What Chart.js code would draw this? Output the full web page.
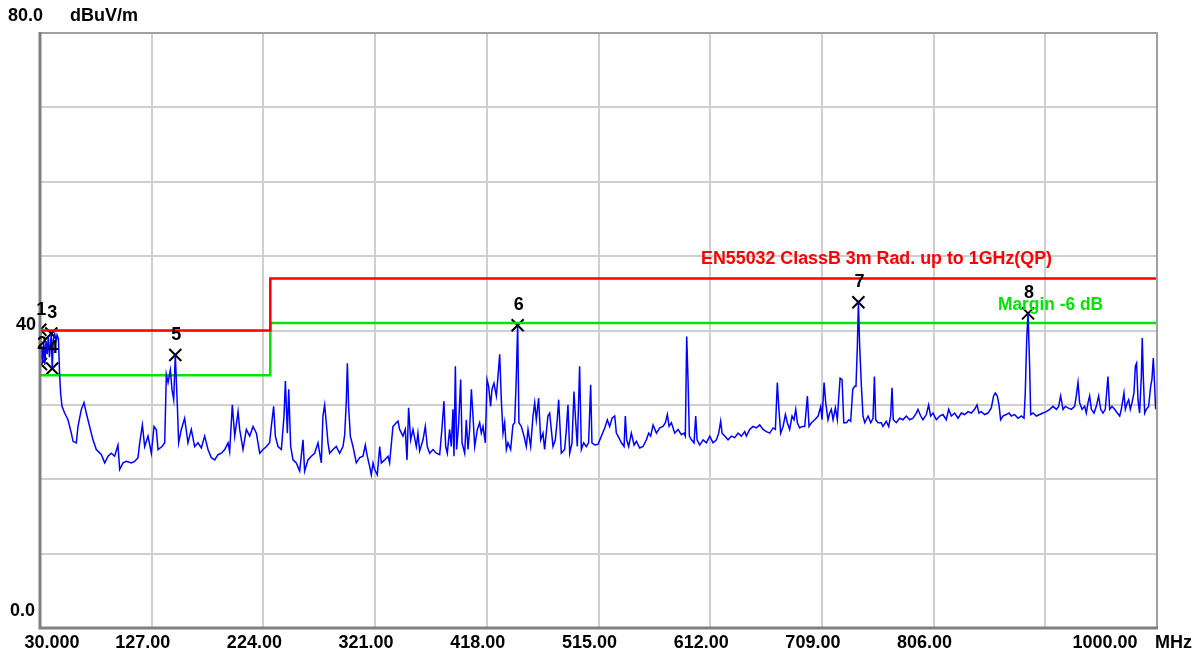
<!DOCTYPE html>
<html>
<head>
<meta charset="utf-8">
<script src="https://cdn.jsdelivr.net/npm/chart.js@4.4.1/dist/chart.umd.min.js"></script>
<style>
  html, body { margin: 0; padding: 0; background: #fff; }
  #wrap { width: 1200px; height: 655px; }
</style>
</head>
<body>
<div id="wrap"><canvas id="emc" width="1200" height="655"></canvas></div>
<script>
// measured trace, [MHz, dBuV/m]
var trace = [
	[30.0, 39.5], [30.3, 40.1], [30.8, 35.5], [31.6, 37.9], [32.4, 35.9], [33.3, 38.3], [34.2, 35.4],
	[35.2, 38.6], [36.2, 36.8], [37.2, 39.2], [38.2, 36.4], [39.8, 39.6], [40.6, 34.9], [41.6, 38.8],
	[42.8, 39.5], [43.8, 38.6], [44.8, 39.4], [46.0, 38.9], [47.0, 34.2],
	[47.9, 31.6], [49.1, 29.8], [51.4, 28.9], [54.3, 28.0], [57.2, 26.2], [58.7, 25.1], [61.5, 24.9],
	[63.0, 27.1], [65.9, 29.4], [68.2, 30.3], [70.2, 28.9], [73.1, 27.1], [76.0, 25.3], [78.9, 24.0],
	[83.3, 23.3], [86.2, 22.2], [89.1, 23.1], [91.9, 23.5], [94.8, 23.1], [97.7, 24.6], [99.2, 21.3],
	[102.1, 22.2], [105.0, 22.4], [109.3, 22.2], [112.2, 22.4], [115.1, 22.9], [116.6, 24.9], [118.9, 27.3],
	[120.9, 24.4], [123.8, 25.8], [126.7, 23.5], [129.0, 27.1], [131.0, 26.7], [132.5, 24.0], [136.0, 24.4],
	[138.3, 24.9], [139.7, 34.1], [141.2, 33.0], [143.2, 34.7], [144.6, 32.1], [146.1, 30.7], [147.5, 36.7],
	[149.3, 29.8], [150.4, 24.9], [152.7, 26.7], [155.6, 28.2], [158.5, 24.9], [161.4, 26.7], [164.3, 24.4],
	[167.2, 24.9], [170.1, 24.2], [173.0, 25.8], [175.9, 24.0], [178.8, 22.9], [181.7, 22.6], [184.6, 23.3],
	[187.5, 23.5], [190.4, 24.0], [193.3, 24.9], [194.7, 23.7], [197.0, 30.0], [199.1, 25.8], [202.0, 29.1],
	[203.4, 26.7], [206.3, 24.0], [209.2, 26.7], [212.1, 25.8], [215.0, 27.1], [217.9, 26.2], [220.8, 23.5],
	[223.7, 24.0], [226.6, 24.4], [229.4, 24.9], [230.9, 27.1], [232.9, 29.8], [234.4, 25.8], [236.7, 24.4],
	[239.6, 24.0], [241.9, 28.5], [243.1, 33.2], [244.8, 26.2], [246.0, 32.1], [247.7, 24.4], [249.7, 22.6],
	[252.6, 22.2], [255.5, 21.1], [258.4, 25.3], [259.8, 21.1], [262.7, 22.6], [265.6, 23.1], [268.5, 23.5],
	[271.4, 24.9], [274.3, 22.2], [275.7, 28.5], [277.2, 30.0], [278.6, 27.6], [280.1, 24.9], [281.5, 23.5],
	[284.4, 24.0], [287.3, 24.4], [290.2, 23.5], [293.1, 24.4], [294.6, 26.0], [296.0, 30.5], [296.9, 35.6],
	[298.0, 29.8], [299.5, 25.8], [301.8, 24.4], [304.7, 22.2], [307.6, 22.9], [310.5, 23.1], [312.5, 24.6],
	[314.2, 23.1], [316.3, 21.7], [317.7, 20.6], [319.2, 22.2], [320.6, 21.3], [322.9, 20.6], [325.0, 24.4],
	[326.4, 22.2], [329.3, 22.6], [332.2, 23.1], [333.6, 22.2], [336.5, 27.1], [339.4, 27.6], [340.9, 27.8],
	[342.3, 26.7], [345.2, 25.8], [347.2, 26.7], [348.7, 22.6], [350.1, 29.6], [351.9, 25.3], [353.9, 26.7],
	[356.8, 24.4], [358.2, 26.2], [359.7, 23.8], [362.6, 25.3], [364.6, 27.1], [366.3, 24.4], [368.4, 23.5],
	[371.3, 24.0], [374.2, 23.5], [377.1, 23.3], [379.1, 26.9], [380.8, 30.5], [382.3, 24.4], [383.7, 23.5],
	[385.7, 26.7], [387.2, 24.4], [388.6, 29.4], [389.5, 23.1], [390.7, 35.2], [391.8, 24.0], [393.6, 27.6],
	[395.3, 33.4], [396.5, 24.9], [398.8, 23.5], [400.2, 28.0], [401.7, 24.0], [403.1, 26.7], [404.6, 32.1],
	[406.0, 28.5], [407.5, 24.4], [409.8, 26.7], [411.8, 27.6], [413.2, 26.2], [414.7, 27.1], [416.7, 24.9],
	[418.2, 33.4], [419.6, 32.5], [421.3, 29.8], [422.5, 32.1], [424.2, 32.9], [426.3, 31.2], [427.7, 33.8],
	[429.2, 36.8], [430.6, 30.7], [432.1, 26.2], [433.5, 27.6], [435.0, 24.0], [436.4, 24.9], [438.7, 24.0],
	[440.7, 27.3], [442.2, 27.6], [443.6, 33.6], [444.8, 40.7], [445.9, 27.6], [448.0, 27.1], [450.3, 25.8],
	[452.3, 24.4], [453.8, 26.7], [456.1, 24.4], [458.1, 28.5], [459.6, 30.3], [461.0, 28.0], [463.0, 30.9],
	[464.8, 25.3], [466.8, 26.2], [468.2, 24.0], [471.1, 28.5], [472.6, 28.9], [474.0, 26.7], [475.5, 24.4],
	[477.5, 25.3], [479.2, 28.0], [480.4, 30.7], [482.7, 23.5], [485.6, 24.0], [487.1, 26.7], [488.5, 30.0],
	[490.0, 23.5], [492.0, 24.9], [493.7, 31.8], [494.9, 28.5], [496.6, 24.4], [498.6, 35.2], [500.1, 24.0],
	[502.1, 24.9], [504.4, 24.4], [506.4, 24.9], [508.2, 32.7], [509.3, 24.9], [511.7, 24.6], [514.6, 24.7],
	[517.5, 25.8], [520.4, 26.9], [522.7, 28.0], [524.7, 27.1], [526.8, 28.2], [529.1, 28.5], [530.5, 26.2],
	[532.0, 25.8], [534.9, 24.9], [537.2, 24.4], [538.3, 28.5], [539.5, 25.3], [541.2, 24.4], [543.5, 26.2],
	[545.9, 24.6], [547.9, 25.1], [550.8, 24.2], [553.7, 24.4], [556.6, 25.3], [558.6, 26.2], [560.3, 25.8],
	[562.4, 27.3], [565.3, 26.2], [568.2, 26.9], [571.0, 27.1], [573.1, 27.6], [574.8, 28.7], [576.3, 27.1],
	[578.3, 27.6], [581.2, 26.2], [584.1, 26.7], [587.0, 26.0], [589.3, 26.2], [590.4, 25.8], [591.6, 39.2],
	[592.8, 33.0], [593.9, 25.8], [595.7, 25.3], [598.0, 24.9], [599.4, 28.5], [600.6, 25.3], [602.9, 24.6],
	[605.8, 25.3], [608.7, 24.9], [611.6, 25.8], [614.5, 24.9], [617.4, 25.3], [619.4, 26.2], [621.1, 27.8],
	[622.3, 26.2], [624.6, 25.8], [627.5, 25.3], [630.4, 25.8], [633.3, 25.6], [636.2, 26.2], [639.1, 25.8],
	[642.0, 26.4], [643.4, 25.8], [646.3, 26.7], [649.2, 27.1], [652.1, 26.9], [655.0, 27.3], [657.9, 26.7],
	[660.8, 26.4], [663.7, 26.2], [666.6, 26.9], [668.6, 26.7], [670.3, 33.0], [671.5, 29.8], [673.2, 26.2],
	[675.3, 27.1], [677.3, 28.7], [679.0, 27.6], [681.0, 26.7], [683.1, 28.5], [684.8, 28.0], [686.3, 29.4],
	[687.7, 27.6], [689.7, 26.9], [691.8, 27.1], [694.1, 27.1], [696.4, 31.2], [697.8, 27.1], [699.9, 27.6],
	[702.8, 28.0], [705.7, 28.5], [708.0, 29.8], [709.1, 28.0], [710.9, 33.0], [712.3, 30.3], [714.3, 28.0],
	[715.8, 28.9], [717.2, 29.4], [718.7, 28.0], [720.7, 29.6], [722.4, 28.0], [723.6, 30.9], [724.8, 33.6],
	[726.5, 33.4], [728.0, 27.6], [730.3, 27.6], [732.3, 28.0], [734.0, 27.8], [735.8, 32.1], [737.5, 32.5],
	[738.6, 32.5], [739.8, 37.9], [740.7, 43.8], [741.8, 37.9], [743.3, 32.5], [744.7, 28.5], [746.2, 27.6],
	[749.1, 28.5], [751.4, 27.6], [753.4, 28.2], [754.6, 33.8], [755.7, 28.0], [757.7, 27.6], [760.6, 27.6],
	[762.0, 27.1], [764.9, 27.8], [767.0, 27.1], [768.7, 28.5], [769.9, 32.3], [771.0, 28.0], [773.6, 27.6],
	[776.5, 28.2], [779.4, 28.0], [782.3, 28.5], [785.2, 28.0], [788.1, 28.2], [791.0, 28.9], [792.4, 29.4],
	[794.8, 28.5], [796.8, 28.0], [799.7, 28.7], [801.7, 30.0], [803.4, 28.5], [805.5, 28.9], [808.4, 28.0],
	[811.3, 28.5], [814.1, 28.7], [817.0, 28.0], [819.1, 29.4], [821.4, 28.5], [824.3, 28.9], [827.2, 28.2],
	[830.1, 28.9], [833.0, 28.7], [835.9, 29.1], [838.8, 28.9], [841.6, 29.4], [843.7, 30.0], [845.4, 28.9],
	[847.4, 29.1], [850.3, 28.7], [853.2, 28.9], [856.1, 29.6], [858.1, 31.2], [859.6, 31.6], [861.3, 31.2],
	[862.8, 30.0], [864.2, 28.0], [866.2, 28.5], [869.1, 28.7], [871.5, 28.9], [873.5, 28.5], [876.4, 28.7],
	[879.3, 28.2], [882.2, 28.5], [884.5, 28.2], [885.6, 31.6], [886.8, 38.6], [888.0, 42.3], [889.4, 35.2],
	[890.3, 28.7], [892.3, 28.9], [895.2, 28.5], [898.1, 28.7], [901.0, 28.9], [903.9, 29.1], [906.8, 29.4],
	[909.7, 29.8], [912.6, 29.4], [914.6, 29.8], [916.3, 31.2], [918.4, 29.4], [920.4, 29.8], [922.7, 29.6],
	[925.6, 29.4], [928.5, 29.8], [929.9, 31.2], [931.4, 33.0], [932.8, 30.3], [934.9, 29.4], [937.2, 29.8],
	[938.6, 28.9], [940.1, 30.3], [941.5, 31.2], [943.0, 29.4], [945.3, 28.9], [947.3, 29.8], [949.3, 31.2],
	[951.1, 29.4], [953.1, 28.9], [955.1, 29.4], [957.4, 33.8], [958.9, 29.4], [960.9, 29.8], [963.2, 29.4],
	[965.5, 28.9], [967.6, 28.5], [969.0, 29.4], [971.3, 31.6], [972.5, 29.4], [974.2, 30.3], [975.4, 30.7],
	[976.8, 29.4], [978.3, 30.3], [980.0, 31.6], [981.2, 35.2], [982.3, 35.6], [983.5, 30.7], [984.9, 28.9],
	[986.4, 33.8], [987.2, 39.0], [988.1, 33.8], [989.3, 28.9], [990.7, 29.4], [992.7, 29.8], [994.5, 32.5],
	[995.6, 33.4], [996.8, 36.3], [997.9, 32.7], [998.8, 29.4], [1000.0, 30.6]
];

// EN55032 class B 3m QP limit and the -6 dB margin
var limitMHz = [30, 230, 230, 1000];
var limitDb = [40, 40, 47, 47];
var marginDb = [34, 34, 41, 41];

// marker table
var markerNo = ['1', '2', '3', '4', '5', '6', '7', '8'];
var markerMHz = [30.3, 30.8, 39.8, 40.6, 147.5, 444.8, 740.7, 888.0];
var markerDb = [40.1, 35.5, 39.6, 34.9, 36.7, 40.7, 43.8, 42.3];

// axis text
var xTickMHz = [30, 127, 224, 321, 418, 515, 612, 709, 806, 1000];
var xTickText = ['30.000', '127.00', '224.00', '321.00', '418.00', '515.00', '612.00', '709.00', '806.00', '1000.00'];

var FONT = 'bold 18px "Liberation Sans", Arial, sans-serif';

function pairs(xs, ys){
	var out = [];
	for(var i = 0; i < xs.length; i++){
		out.push({x: xs[i], y: ys[i]});
	}
	return out;
}

var frameAndText = {
	id: 'frameAndText',
	afterDraw: function(chart){
		var c = chart.ctx;
		var a = chart.chartArea;
		var xs = chart.scales.x, ys = chart.scales.y;
		c.save();

		// frame: light top/right, darker left/bottom
		c.lineWidth = 2;
		c.strokeStyle = '#a0a0a0';
		c.beginPath();
		c.moveTo(a.left, a.top); c.lineTo(a.right, a.top); c.lineTo(a.right, a.bottom);
		c.stroke();
		c.lineWidth = 3;
		c.strokeStyle = '#808080';
		c.beginPath();
		c.moveTo(a.left, a.top - 1); c.lineTo(a.left, a.bottom); c.lineTo(a.right + 1, a.bottom);
		c.stroke();

		c.font = FONT;
		c.fillStyle = '#000';
		c.textBaseline = 'middle';

		// y labels
		c.textAlign = 'left';
		c.fillText('80.0', 8, ys.getPixelForValue(80) - 17);
		c.fillText('dBuV/m', 70, ys.getPixelForValue(80) - 17);
		c.textAlign = 'right';
		c.fillText('40', a.left - 4, ys.getPixelForValue(40) - 5);
		c.fillText('0.0', a.left - 5, ys.getPixelForValue(0) - 17);

		// x labels
		c.textAlign = 'center';
		var ly = a.bottom + 15;
		for(var i = 0; i < xTickMHz.length; i++){
			var px = xs.getPixelForValue(xTickMHz[i]);
			if(i == 0) px += 12;
			else if(i == xTickMHz.length - 1) px -= 52;
			else px -= 9;
			c.fillText(xTickText[i], px, ly);
		}
		c.textAlign = 'left';
		c.fillText('MHz', a.right - 2, ly);

		// limit captions
		c.fillStyle = '#ff0000';
		c.fillText('EN55032 ClassB 3m Rad. up to 1GHz(QP)', 701, ys.getPixelForValue(47) - 19, 351);
		c.fillStyle = '#00e600';
		c.fillText('Margin -6 dB', 998, ys.getPixelForValue(41) - 18, 105);

		// marker numbers
		c.fillStyle = '#000';
		c.textAlign = 'center';
		var meta = chart.getDatasetMeta(3);
		for(var j = 0; j < meta.data.length; j++){
			var p = meta.data[j];
			c.fillText(markerNo[j], p.x + 1, p.y - 20);
		}
		c.restore();
	}
};

var ctx = document.getElementById('emc');
var chart = new Chart(ctx, {
	type: 'line',
	data: {
		datasets: [{
			data: trace.map(function(p){ return {x: p[0], y: p[1]}; }),
			borderColor: '#0000ff',
			borderWidth: 1.5,
			pointRadius: 0,
			tension: 0
		}, {
			data: pairs(limitMHz, limitDb),
			borderColor: '#ff0000',
			borderWidth: 2.5,
			pointRadius: 0
		}, {
			data: pairs(limitMHz, marginDb),
			borderColor: '#00e600',
			borderWidth: 2.5,
			pointRadius: 0
		}, {
			type: 'scatter',
			data: pairs(markerMHz, markerDb),
			showLine: false,
			pointStyle: 'crossRot',
			pointRadius: 8.5,
			borderColor: '#000',
			backgroundColor: '#000',
			pointBorderWidth: 2
		}]
	},
	options: {
		responsive: false,
		animation: false,
		events: [],
		layout: {
			padding: {left: 40, top: 33, right: 43, bottom: 27}
		},
		plugins: {
			legend: {display: false},
			tooltip: {enabled: false}
		},
		scales: {
			x: {
				type: 'linear',
				min: 30,
				max: 1000,
				ticks: {display: false, stepSize: 97},
				grid: {color: '#cfcfcf', lineWidth: 2, drawTicks: false},
				border: {display: false}
			},
			y: {
				min: 0,
				max: 80,
				ticks: {display: false, stepSize: 10},
				grid: {color: '#cfcfcf', lineWidth: 2, drawTicks: false},
				border: {display: false}
			}
		}
	},
	plugins: [frameAndText]
});
</script>
</body>
</html>
